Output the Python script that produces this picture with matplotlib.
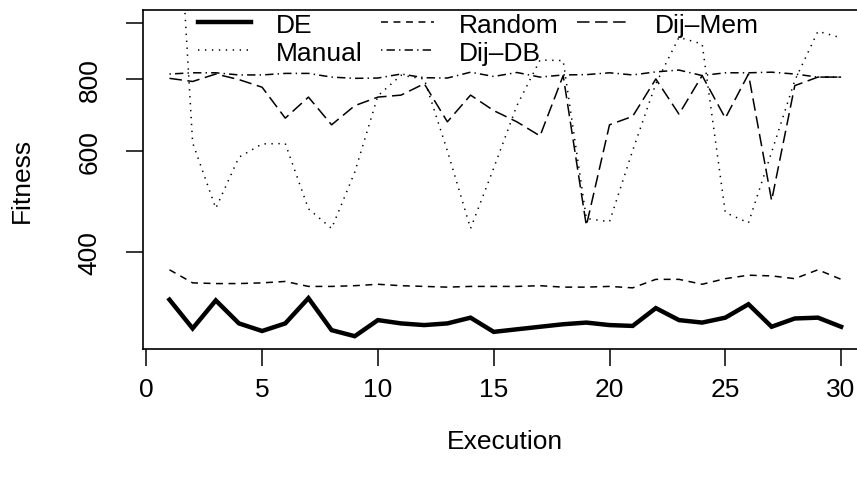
import matplotlib.pyplot as plt
import numpy as np

plt.rcParams['font.family'] = ['Liberation Sans', 'DejaVu Sans']
plt.rcParams['lines.scale_dashes'] = False

execution = np.arange(1, 31)

de = [331, 295, 330, 301, 292, 301, 333, 293, 286, 305, 301, 299, 301, 308, 291,
      294, 297, 300, 302, 299, 298, 320, 305, 302, 308, 325, 297, 307, 308, 297]
manual = [3000, 620, 477, 585, 617, 618, 476, 440, 551, 748, 812, 800, 600, 440, 560,
          719, 863, 861, 458, 452, 601, 785, 945, 920, 469, 450, 597, 795, 968, 943]
random_ = [373, 354, 353, 353, 354, 356, 349, 349, 350, 352, 350, 349, 348, 349, 349,
           349, 350, 348, 348, 349, 347, 359, 359, 352, 360, 365, 364, 360, 373, 359]
dij_db = [816, 820, 820, 813, 813, 818, 818, 806, 802, 803, 816, 804, 803, 822, 808,
          821, 806, 813, 814, 820, 813, 823, 829, 811, 820, 820, 822, 816, 806, 806]
dij_mem = [802, 792, 816, 798, 774, 684, 744, 666, 719, 744, 750, 785, 674, 750, 705,
           674, 637, 811, 445, 666, 689, 800, 695, 811, 684, 816, 492, 779, 806, 806]

fontsize = 19

fig = plt.figure(figsize=(8.57, 4.81), dpi=100)
# plot region runs past the right edge of the picture, as in the reference
ax = fig.add_axes([0.1664, 0.2723, 0.8464, 0.7048])

ax.plot(execution, de, color='black', lw=3.2, label='DE', solid_joinstyle='miter')
ax.plot(execution, manual, color='black', lw=1.1, dashes=(1, 4), label='Manual')
ax.plot(execution, random_, color='black', lw=1.1, dashes=(5, 4), label='Random')
ax.plot(execution, dij_db, color='black', lw=1.1, dashes=(1, 3, 6, 3), label='Dij\u2013DB')
ax.plot(execution, dij_mem, color='black', lw=1.1, dashes=(9, 4), label='Dij\u2013Mem')

ax.set_yscale('log')
ax.set_xlim(-0.16, 31.16)
ax.set_ylim(271.7, 1054)

ax.set_xticks([0, 5, 10, 15, 20, 25, 30])
ax.set_yticks([400, 600, 800, 1000])
ax.set_yticklabels(['400', '600', '800', ''])
ax.yaxis.set_minor_locator(plt.NullLocator())
ax.tick_params(axis='both', which='major', direction='out', length=12.5, width=1.1,
               labelsize=fontsize)
ax.tick_params(axis='x', pad=8)
ax.tick_params(axis='y', pad=17)
for lab in ax.get_yticklabels():
    lab.set_rotation(90)
    lab.set_va('center')

for s in ax.spines.values():
    s.set_linewidth(1.2)

ax.set_xlabel('Execution', fontsize=fontsize)
ax.set_ylabel('Fitness', fontsize=fontsize)
ax.xaxis.set_label_coords(0.5, -0.235)
ax.yaxis.set_label_coords(-0.15, 0.5)

ax.legend(ncol=3, loc='upper left', bbox_to_anchor=(0.073, 1.0), fontsize=fontsize,
          frameon=False, handlelength=2.0, handletextpad=0.95, columnspacing=0.7,
          labelspacing=0.15, borderpad=0.1, borderaxespad=0.0)

fig.savefig('out.png', dpi=100)
